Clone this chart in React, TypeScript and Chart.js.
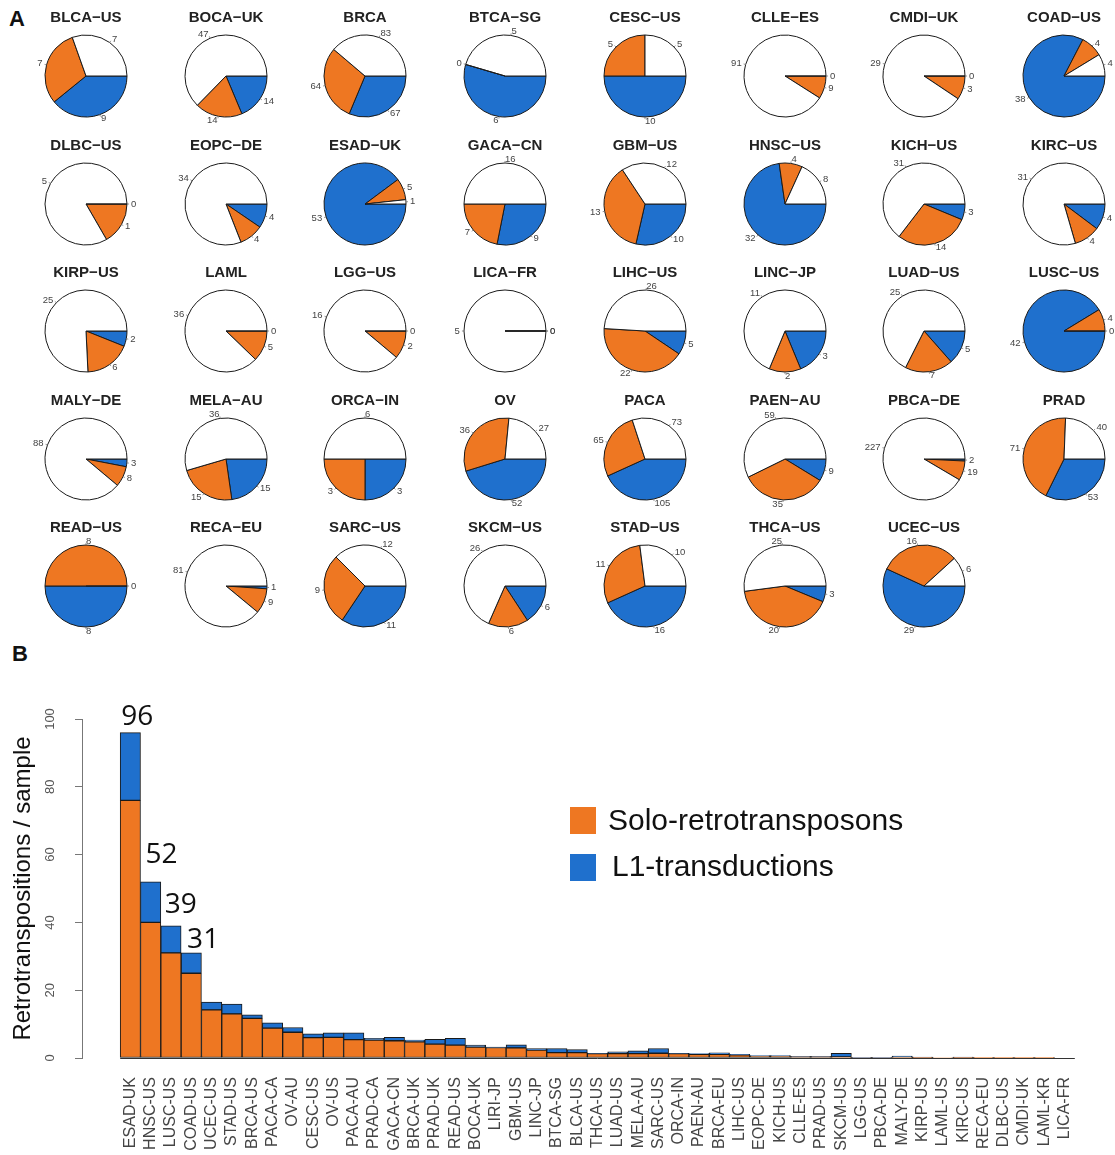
import React, { useEffect, useRef } from "react";
import { Chart, registerables } from "chart.js";

Chart.register(...registerables);
Chart.defaults.font.family = "'Liberation Sans', Arial, sans-serif";

// ---------- Panel A data (per cancer type counts) ----------
const pieNames = [
  "BLCA−US", "BOCA−UK", "BRCA", "BTCA−SG", "CESC−US", "CLLE−ES", "CMDI−UK", "COAD−US",
  "DLBC−US", "EOPC−DE", "ESAD−UK", "GACA−CN", "GBM−US", "HNSC−US", "KICH−US", "KIRC−US",
  "KIRP−US", "LAML", "LGG−US", "LICA−FR", "LIHC−US", "LINC−JP", "LUAD−US", "LUSC−US",
  "MALY−DE", "MELA−AU", "ORCA−IN", "OV", "PACA", "PAEN−AU", "PBCA−DE", "PRAD",
  "READ−US", "RECA−EU", "SARC−US", "SKCM−US", "STAD−US", "THCA−US", "UCEC−US",
];
// white slices
const pieNone = [
  7, 47, 83, 5, 5, 91, 29, 4,
  5, 34, 1, 16, 12, 8, 31, 31,
  25, 36, 16, 5, 26, 11, 25, 0,
  88, 36, 6, 27, 73, 59, 227, 40,
  0, 81, 12, 26, 10, 25, 6,
];
// orange slices
const pieSolo = [
  7, 14, 64, 0, 5, 9, 3, 4,
  1, 4, 5, 7, 13, 4, 14, 4,
  6, 5, 2, 0, 22, 2, 7, 4,
  8, 15, 3, 36, 65, 35, 19, 71,
  8, 9, 9, 6, 11, 20, 16,
];
// blue slices
const pieTransd = [
  9, 14, 67, 6, 10, 0, 0, 38,
  0, 4, 53, 9, 10, 32, 3, 4,
  2, 0, 0, 0, 5, 3, 5, 42,
  3, 15, 3, 52, 105, 9, 2, 53,
  8, 1, 11, 6, 16, 3, 29,
];

// ---------- Panel B data ----------
const barCategories = [
  "ESAD-UK", "HNSC-US", "LUSC-US", "COAD-US", "UCEC-US", "STAD-US", "BRCA-US", "PACA-CA",
  "OV-AU", "CESC-US", "OV-US", "PACA-AU", "PRAD-CA", "GACA-CN", "BRCA-UK", "PRAD-UK",
  "READ-US", "BOCA-UK", "LIRI-JP", "GBM-US", "LINC-JP", "BTCA-SG", "BLCA-US", "THCA-US",
  "LUAD-US", "MELA-AU", "SARC-US", "ORCA-IN", "PAEN-AU", "BRCA-EU", "LIHC-US", "EOPC-DE",
  "KICH-US", "CLLE-ES", "PRAD-US", "SKCM-US", "LGG-US", "PBCA-DE", "MALY-DE", "KIRP-US",
  "LAML-US", "KIRC-US", "RECA-EU", "DLBC-US", "CMDI-UK", "LAML-KR", "LICA-FR",
];
const soloPerSample = [
  76, 40, 31, 25, 14.2, 13, 11.7, 8.8,
  7.6, 6.0, 6.1, 5.4, 5.3, 5.1, 4.8, 4.1,
  3.8, 3.2, 3.1, 3.0, 2.3, 1.6, 1.6, 1.3,
  1.3, 1.3, 1.4, 1.3, 1.1, 1.1, 0.9, 0.6,
  0.6, 0.45, 0.45, 0.3, 0.15, 0.15, 0.3, 0.2,
  0.15, 0.2, 0.1, 0.1, 0.1, 0.05, 0,
];
const transductionPerSample = [
  20, 12, 8, 6, 2.3, 2.9, 1.0, 1.6,
  1.4, 1.1, 1.3, 2.0, 0.5, 1.0, 0.5, 1.4,
  2.0, 0.6, 0.1, 0.9, 0.5, 1.2, 0.9, 0.1,
  0.5, 0.8, 1.4, 0.1, 0.2, 0.4, 0.2, 0.1,
  0.1, 0.05, 0.05, 1.1, 0.05, 0.05, 0.3, 0.1,
  0, 0.1, 0, 0, 0, 0, 0,
];
const annotatedBars = [0, 1, 2, 3];
const yTicks = [0, 20, 40, 60, 80, 100];
const legendLabels = ["Solo-retrotransposons", "L1-transductions"];

// ---------- styles ----------
const ORANGE = "#EE7722";
const BLUE = "#1F70CD";
const EDGE = "#1a1a1a";
const FONT = "'Liberation Sans', Arial, sans-serif";

const COL_X0 = 86;
const COL_DX = 139.7;
const ROW_DY = 127.5;
const CELL_W = 140;
const CELL_H = 127;

const pieLabelPlugin = {
  id: "pieLabels",
  afterDatasetsDraw(chart: any) {
    const ctx = chart.ctx;
    const meta = chart.getDatasetMeta(0);
    const values = chart.data.datasets[0].data as number[];
    ctx.save();
    meta.data.forEach((arc: any, i: number) => {
      const p = arc.getProps(["x", "y", "startAngle", "endAngle", "outerRadius"], true);
      const r = p.outerRadius;
      const mid = (p.startAngle + p.endAngle) / 2;
      const c = Math.cos(mid);
      const s = Math.sin(mid);
      if (Math.abs(p.endAngle - p.startAngle) < 1e-9) {
        ctx.strokeStyle = EDGE;
        ctx.lineWidth = 1;
        ctx.beginPath();
        ctx.moveTo(p.x, p.y);
        ctx.lineTo(p.x + c * r, p.y + s * r);
        ctx.stroke();
      }
      ctx.strokeStyle = "#777";
      ctx.lineWidth = 0.8;
      ctx.beginPath();
      ctx.moveTo(p.x + c * r, p.y + s * r);
      ctx.lineTo(p.x + c * r * 1.05, p.y + s * r * 1.05);
      ctx.stroke();
      ctx.fillStyle = "#444";
      ctx.font = `9.5px ${FONT}`;
      ctx.textAlign = c < -1e-6 ? "right" : "left";
      ctx.textBaseline = "middle";
      ctx.fillText(String(values[i]), p.x + c * r * 1.1, p.y + s * r * 1.1);
    });
    ctx.restore();
  },
};

function PieCell({ idx }: { idx: number }) {
  const ref = useRef<HTMLCanvasElement>(null);
  useEffect(() => {
    if (!ref.current) return;
    const chart = new Chart(ref.current, {
      type: "pie",
      data: {
        labels: ["L1-transductions", "Solo-retrotransposons", "None"],
        datasets: [
          {
            data: [pieTransd[idx], pieSolo[idx], pieNone[idx]],
            backgroundColor: [BLUE, ORANGE, "#ffffff"],
            borderColor: EDGE,
            borderWidth: 1,
            hoverOffset: 0,
          },
        ],
      },
      options: {
        animation: false,
        responsive: false,
        maintainAspectRatio: false,
        rotation: 90,
        radius: 41,
        events: [],
        layout: { padding: { top: 0, bottom: 2, left: 0, right: 0 } },
        plugins: {
          legend: { display: false },
          tooltip: { enabled: false },
          title: {
            display: true,
            text: pieNames[idx],
            color: "#222",
            font: { size: 15, weight: "bold", family: FONT },
            padding: { top: 9, bottom: 0 },
          },
        },
      } as any,
      plugins: [pieLabelPlugin],
    });
    return () => chart.destroy();
  }, [idx]);
  const col = idx % 8;
  const row = Math.floor(idx / 8);
  const left = Math.round(COL_X0 + col * COL_DX - CELL_W / 2);
  const top = Math.round(row * ROW_DY);
  return (
    <canvas
      ref={ref}
      width={CELL_W}
      height={CELL_H}
      style={{ position: "absolute", left, top, width: CELL_W, height: CELL_H }}
    />
  );
}

const BAR_TOP = 680;
const BAR_W = 1115;
const BAR_H = 475;

const barDecorPlugin = {
  id: "barDecor",
  afterDatasetsDraw(chart: any) {
    const ctx = chart.ctx;
    const xs = chart.scales.x;
    const ys = chart.scales.y;
    ctx.save();
    // baseline under the bars
    ctx.strokeStyle = "#333";
    ctx.lineWidth = 1;
    ctx.beginPath();
    const y0 = Math.round(ys.getPixelForValue(0)) + 0.5;
    ctx.moveTo(xs.getPixelForValue(0), y0);
    ctx.lineTo(xs.getPixelForValue(barCategories.length), y0);
    ctx.stroke();

    // totals above the biggest bars
    const offs = [
      { dx: 1, dy: 8 },
      { dx: 5, dy: 19 },
      { dx: 4, dy: 13 },
      { dx: 6, dy: 5 },
    ];
    ctx.fillStyle = "#111";
    ctx.font = "28px 'Open Sans', 'Liberation Sans', sans-serif";
    ctx.textAlign = "left";
    ctx.textBaseline = "alphabetic";
    annotatedBars.forEach((bi, k) => {
      const total = soloPerSample[bi] + transductionPerSample[bi];
      const x = xs.getPixelForValue(bi) + offs[k].dx;
      const y = ys.getPixelForValue(total) - offs[k].dy;
      ctx.fillText(String(Math.round(total)), x, y);
    });

    // legend
    const items = [
      { color: ORANGE, text: legendLabels[0], sx: 570, sy: 127, tx: 608, ty: 142 },
      { color: BLUE, text: legendLabels[1], sx: 570, sy: 174, tx: 612, ty: 188 },
    ];
    ctx.font = `30px ${FONT}`;
    ctx.textBaseline = "middle";
    items.forEach((it) => {
      ctx.fillStyle = it.color;
      ctx.fillRect(it.sx, it.sy, 26, 27);
      ctx.fillStyle = "#111";
      ctx.fillText(it.text, it.tx, it.ty);
    });
    ctx.restore();
  },
};

function BarPanel() {
  const ref = useRef<HTMLCanvasElement>(null);
  useEffect(() => {
    if (!ref.current) return;
    const mk = (arr: number[]) => arr.map((v, i) => ({ x: i + 0.5, y: v }));
    const chart = new Chart(ref.current, {
      type: "bar",
      data: {
        datasets: [
          {
            label: legendLabels[0],
            data: mk(soloPerSample),
            backgroundColor: ORANGE,
            borderColor: EDGE,
            borderWidth: 1,
            borderSkipped: false,
            barPercentage: 1,
            categoryPercentage: 1,
          },
          {
            label: legendLabels[1],
            data: mk(transductionPerSample),
            backgroundColor: BLUE,
            borderColor: EDGE,
            borderWidth: 1,
            borderSkipped: false,
            barPercentage: 1,
            categoryPercentage: 1,
          },
        ],
      },
      options: {
        animation: false,
        responsive: false,
        maintainAspectRatio: false,
        events: [],
        layout: { padding: { top: 39, right: 2, left: 0, bottom: 0 } },
        plugins: { legend: { display: false }, tooltip: { enabled: false } },
        scales: {
          x: {
            type: "linear",
            stacked: true,
            offset: false,
            min: -1.88,
            max: barCategories.length + 1.88,
            grid: { display: false, offset: false },
            border: { display: false },
            afterBuildTicks: (s: any) => {
              s.ticks = barCategories.map((_, i) => ({ value: i + 0.5 }));
            },
            afterFit: (s: any) => {
              s.height = 97;
              s.paddingLeft = 0;
              s.paddingRight = 0;
            },
            ticks: {
              autoSkip: false,
              minRotation: 90,
              maxRotation: 90,
              padding: 11,
              color: "#444",
              font: { size: 16, family: FONT },
              callback: (v: any) => barCategories[Math.round(Number(v) - 0.5)],
            },
          },
          y: {
            stacked: true,
            min: 0,
            max: 100,
            afterBuildTicks: (s: any) => {
              s.ticks = yTicks.map((v) => ({ value: v }));
            },
            afterFit: (s: any) => {
              s.width = 82;
              s.paddingTop = 0;
              s.paddingBottom = 0;
            },
            ticks: {
              minRotation: 90,
              maxRotation: 90,
              crossAlign: "center",
              padding: 14,
              color: "#555",
              font: { size: 13, family: FONT },
            },
            grid: { drawOnChartArea: false, drawTicks: true, tickLength: 7, color: "#777" },
            border: { display: true, color: "#777" },
            title: {
              display: true,
              text: "Retrotranspositions / sample",
              color: "#111",
              font: { size: 24, family: FONT },
              padding: { top: 9, bottom: 0 },
            },
          },
        },
      } as any,
      plugins: [barDecorPlugin],
    });
    return () => chart.destroy();
  }, []);
  return (
    <canvas
      ref={ref}
      width={BAR_W}
      height={BAR_H}
      style={{ position: "absolute", left: 0, top: BAR_TOP, width: BAR_W, height: BAR_H }}
    />
  );
}

export default function App() {
  return (
    <div
      style={{
        position: "absolute",
        left: 0,
        top: 0,
        width: 1115,
        height: 1155,
        background: "#fff",
        overflow: "hidden",
        fontFamily: FONT,
      }}
    >
      <div style={{ position: "absolute", left: 9, top: 8, fontSize: 22, fontWeight: "bold", lineHeight: 1, color: "#111" }}>
        A
      </div>
      {pieNames.map((_, i) => (
        <PieCell key={i} idx={i} />
      ))}
      <div style={{ position: "absolute", left: 12, top: 643, fontSize: 22, fontWeight: "bold", lineHeight: 1, color: "#111" }}>
        B
      </div>
      <BarPanel />
    </div>
  );
}
